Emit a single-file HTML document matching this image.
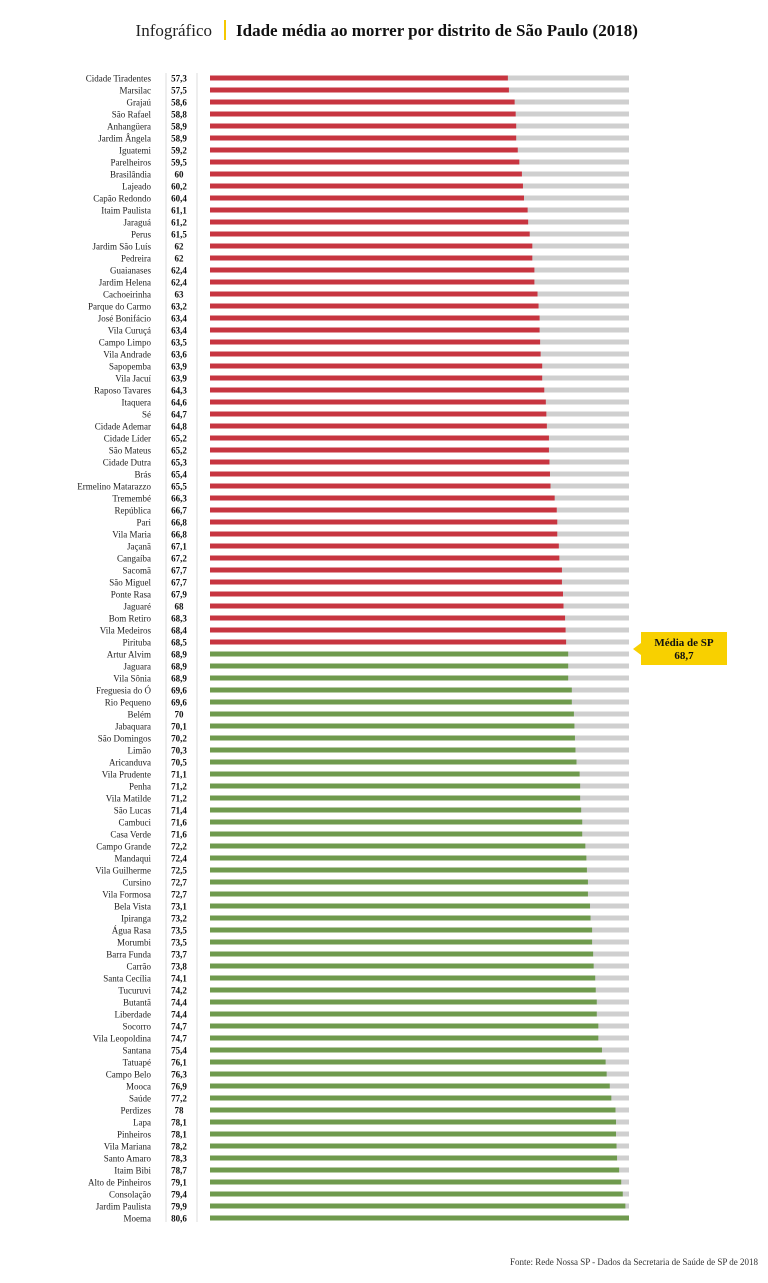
<!DOCTYPE html>
<html><head><meta charset="utf-8"><style>
body{margin:0;background:#fff;width:768px;height:1278px;overflow:hidden;font-family:"Liberation Serif",serif}
</style></head><body>
<svg id="c" width="768" height="1278">
<text x="212" y="36" text-anchor="end" font-size="17" fill="#222">Infográfico</text>
<rect x="224" y="20" width="2" height="20" fill="#f5c800"/>
<text x="236" y="36" font-size="17" font-weight="bold" fill="#111">Idade média ao morrer por distrito de São Paulo (2018)</text>
<line x1="166" y1="73" x2="166" y2="1222" stroke="#ddd"/>
<line x1="197" y1="73" x2="197" y2="1222" stroke="#ddd"/>
<g id="rows"></g>
<g>
<rect x="641" y="632" width="86" height="33" fill="#f8d000"/>
<polygon points="641,643 633,649 641,655" fill="#f8d000"/>
<text x="684" y="646" text-anchor="middle" font-size="11" font-weight="bold" fill="#111">Média de SP</text>
<text x="684" y="659" text-anchor="middle" font-size="11" font-weight="bold" fill="#111">68,7</text>
</g>
<text x="758" y="1265" text-anchor="end" font-size="9" fill="#333">Fonte: Rede Nossa SP - Dados da Secretaria de Saúde de SP de 2018</text>
</svg>
<script>
const districts=["Cidade Tiradentes","Marsilac","Grajaú","São Rafael","Anhangüera","Jardim Ângela","Iguatemi","Parelheiros","Brasilândia","Lajeado","Capão Redondo","Itaim Paulista","Jaraguá","Perus","Jardim São Luís","Pedreira","Guaianases","Jardim Helena","Cachoeirinha","Parque do Carmo","José Bonifácio","Vila Curuçá","Campo Limpo","Vila Andrade","Sapopemba","Vila Jacuí","Raposo Tavares","Itaquera","Sé","Cidade Ademar","Cidade Líder","São Mateus","Cidade Dutra","Brás","Ermelino Matarazzo","Tremembé","República","Pari","Vila Maria","Jaçanã","Cangaíba","Sacomã","São Miguel","Ponte Rasa","Jaguaré","Bom Retiro","Vila Medeiros","Pirituba","Artur Alvim","Jaguara","Vila Sônia","Freguesia do Ó","Rio Pequeno","Belém","Jabaquara","São Domingos","Limão","Aricanduva","Vila Prudente","Penha","Vila Matilde","São Lucas","Cambuci","Casa Verde","Campo Grande","Mandaqui","Vila Guilherme","Cursino","Vila Formosa","Bela Vista","Ipiranga","Água Rasa","Morumbi","Barra Funda","Carrão","Santa Cecília","Tucuruvi","Butantã","Liberdade","Socorro","Vila Leopoldina","Santana","Tatuapé","Campo Belo","Mooca","Saúde","Perdizes","Lapa","Pinheiros","Vila Mariana","Santo Amaro","Itaim Bibi","Alto de Pinheiros","Consolação","Jardim Paulista","Moema"];
const ages=[57.3,57.5,58.6,58.8,58.9,58.9,59.2,59.5,60,60.2,60.4,61.1,61.2,61.5,62,62,62.4,62.4,63,63.2,63.4,63.4,63.5,63.6,63.9,63.9,64.3,64.6,64.7,64.8,65.2,65.2,65.3,65.4,65.5,66.3,66.7,66.8,66.8,67.1,67.2,67.7,67.7,67.9,68,68.3,68.4,68.5,68.9,68.9,68.9,69.6,69.6,70,70.1,70.2,70.3,70.5,71.1,71.2,71.2,71.4,71.6,71.6,72.2,72.4,72.5,72.7,72.7,73.1,73.2,73.5,73.5,73.7,73.8,74.1,74.2,74.4,74.4,74.7,74.7,75.4,76.1,76.3,76.9,77.2,78,78.1,78.1,78.2,78.3,78.7,79.1,79.4,79.9,80.6];
const spAverage=68.7;
const maxAge=80.6;
const X0=210,W=419,Y0=78,STEP=12;
const x=v=>X0+v/maxAge*W;
const y=i=>Y0+i*STEP;
const NS="http://www.w3.org/2000/svg";
const g=document.getElementById('rows');
function mk(tag,attrs){const e=document.createElementNS(NS,tag);for(const k in attrs)e.setAttribute(k,attrs[k]);g.appendChild(e);return e;}
districts.forEach((d,i)=>{
 const v=ages[i],cy=y(i);
 const l=mk('text',{x:151,y:cy+3.5,'text-anchor':'end','font-size':9,fill:'#222'});l.textContent=d;
 
 
 const t=mk('text',{x:179,y:cy+3.5,'text-anchor':'middle','font-size':9,'font-weight':'bold',fill:'#111'});t.textContent=String(v).replace('.',',');
 
 
 const bg=mk('rect',{x:X0,y:cy-2.5,width:W,height:5,fill:'#cfcfcf'});
 
 
 const b=mk('rect',{x:X0,y:cy-2.5,width:x(v)-X0,height:5,fill:v<spAverage?'#c73540':'#6f9a4e'});
 
 
});
</script>
</body></html>
